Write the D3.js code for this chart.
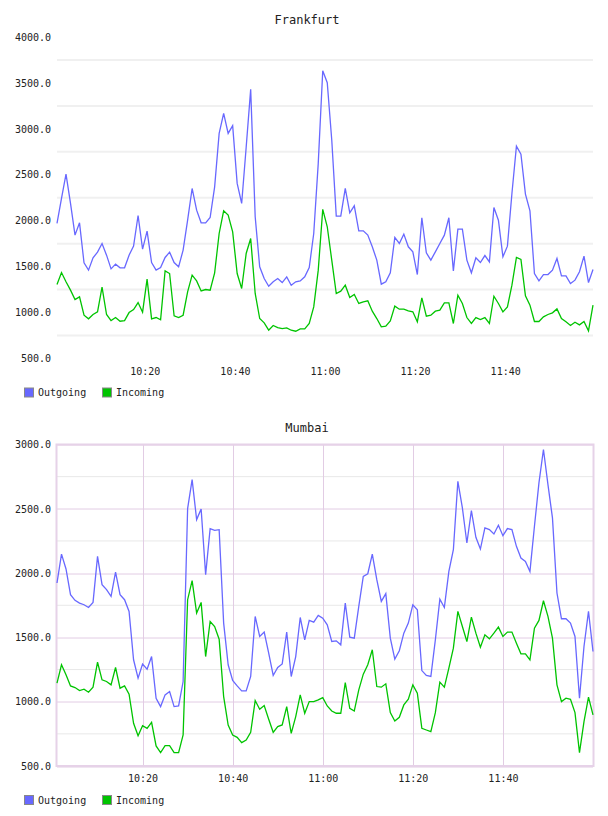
<!DOCTYPE html>
<html>
<head>
<meta charset="utf-8">
<script src="https://cdn.jsdelivr.net/npm/d3@7"></script>
<style>
  html, body { margin: 0; padding: 0; background: #fff; }
  svg { display: block; }
  text { font-family: "DejaVu Sans Mono", monospace; fill: #222; }
</style>
</head>
<body>
<svg id="chart"></svg>
<script>
// series names + colours
const seriesNames = ['Outgoing', 'Incoming'];
const seriesColors = ['#6868ff', '#00c400'];

// y tick values / x tick labels
const frankfurtYTicks = [500, 1000, 1500, 2000, 2500, 3000, 3500, 4000];
const mumbaiYTicks = [500, 1000, 1500, 2000, 2500, 3000];
const xTickLabels = ['10:20', '10:40', '11:00', '11:20', '11:40'];

// one sample per minute
const frankfurtStart = '10:00:30';
const mumbaiStart = '10:01:00';

const frankfurtOutgoing = [
  1970, 2242, 2507, 2188, 1843, 1977, 1541, 1462, 1596, 1658,
  1752, 1625, 1476, 1527, 1487, 1487, 1625, 1723, 2057, 1690,
  1886, 1545, 1462, 1491, 1600, 1658, 1545, 1498, 1680, 2006,
  2351, 2115, 1977, 1977, 2035, 2369, 2950, 3168, 2950, 3034,
  2406, 2188, 2800, 3430, 2043, 1498, 1371, 1287, 1335, 1371,
  1327, 1389, 1298, 1335, 1345, 1389, 1491, 1861, 2624, 3633,
  3502, 2878, 2050, 2050, 2351, 2086, 2162, 1890, 1890, 1843,
  1716, 1571, 1309, 1335, 1433, 1818, 1752, 1854, 1716, 1661,
  1414, 2032, 1650, 1571, 1661, 1752, 1843, 2032, 1454, 1908,
  1908, 1571, 1433, 1596, 1545, 1621, 1552, 2144, 2006, 1607,
  1723, 2297, 2812, 2725, 2290, 2108, 1425, 1345, 1414, 1414,
  1462, 1589, 1400, 1400, 1316, 1353, 1444, 1614, 1327, 1469
];
const frankfurtIncoming = [
  1306, 1436, 1335, 1244, 1142, 1171, 971, 932, 979, 1008,
  1276, 979, 913, 946, 906, 913, 1000, 1033, 1109, 1004,
  1364, 932, 946, 921, 1454, 1425, 964, 946, 971, 1226,
  1407, 1345, 1236, 1251, 1244, 1433, 1861, 2108, 2061, 1879,
  1425, 1262, 1643, 1807, 1208, 935, 888, 808, 859, 837,
  826, 834, 808, 797, 823, 823, 881, 1062, 1462, 2123,
  1934, 1571, 1208, 1233, 1298, 1164, 1197, 1099, 1117, 1128,
  1015, 935, 844, 852, 910, 1070, 1037, 1037, 1019, 1008,
  899, 1160, 961, 971, 1015, 1026, 1106, 1106, 881, 1189,
  1099, 946, 881, 946, 924, 946, 881, 1178, 1099, 1008,
  1062, 1298, 1600, 1578, 1182, 1081, 903, 903, 953, 979,
  997, 1040, 935, 899, 859, 895, 866, 903, 801, 1081
];
const mumbaiOutgoing = [
  1923, 2148, 2032, 1832, 1788, 1767, 1754, 1733, 1772, 2130,
  1910, 1871, 1819, 2008, 1832, 1793, 1702, 1326, 1183, 1292,
  1253, 1351, 1027, 962, 1053, 1079, 962, 967, 1157, 2502,
  2727, 2416, 2499, 1988, 2346, 2333, 2338, 1611, 1287, 1165,
  1123, 1084, 1084, 1196, 1663, 1507, 1541, 1377, 1204, 1266,
  1294, 1541, 1196, 1351, 1655, 1481, 1632, 1619, 1671, 1650,
  1598, 1468, 1473, 1442, 1767, 1502, 1494, 1741, 1975, 1995,
  2148, 1949, 1780, 1840, 1494, 1331, 1396, 1533, 1611, 1754,
  1715, 1242, 1204, 1196, 1481, 1798, 1733, 2013, 2182, 2714,
  2507, 2234, 2486, 2278, 2187, 2351, 2338, 2304, 2372, 2291,
  2346, 2338, 2208, 2117, 2091, 2013, 2364, 2701, 2961, 2688,
  2429, 1845, 1645, 1645, 1611, 1507, 1027, 1429, 1702, 1390
];
const mumbaiIncoming = [
  1144, 1287, 1209, 1123, 1110, 1087, 1097, 1074, 1113, 1307,
  1170, 1157, 1131, 1266, 1105, 1123, 1058, 832, 736, 814,
  793, 840, 656, 604, 658, 658, 604, 604, 741, 1793,
  1941, 1689, 1772, 1351, 1624, 1585, 1486, 1040, 819, 741,
  723, 682, 702, 762, 1009, 941, 970, 863, 762, 806,
  819, 962, 754, 884, 1053, 910, 1001, 1001, 1014, 1032,
  967, 928, 910, 910, 1149, 949, 928, 1092, 1214, 1287,
  1404, 1118, 1113, 1139, 915, 850, 879, 975, 1019, 1131,
  1066, 793, 780, 767, 915, 1152, 1113, 1261, 1416, 1702,
  1585, 1468, 1658, 1533, 1424, 1520, 1489, 1533, 1580, 1507,
  1541, 1541, 1455, 1372, 1372, 1326, 1572, 1632, 1785, 1663,
  1494, 1131, 1001, 1027, 1019, 915, 604, 845, 1035, 897
];

const width = 608;
const height = 816;
const margin = { left: 57, right: 15 };
const parseTime = d3.timeParse('%H:%M:%S');
const parseHM = d3.timeParse('%H:%M');

const svg = d3.select('#chart')
  .attr('width', width)
  .attr('height', height);

function drawChart(cfg) {
  const g = svg.append('g').attr('transform', `translate(0,${cfg.offsetY})`);
  const top = 37, bottom = 358.5;
  const start = parseTime(cfg.start);
  const times = cfg.series[0].map((d, i) => d3.timeMinute.offset(start, i));

  const x = d3.scaleTime()
    .domain([times[0], times[times.length - 1]])
    .range([margin.left, width - margin.right]);
  const y = d3.scaleLinear()
    .domain(cfg.yDomain)
    .range([bottom, top]);

  // minor grid: every 5 min, and half way between y ticks
  const fiveMin = d3.timeMinutes(d3.timeMinute.offset(times[0], 1), times[times.length - 1], 5)
    .filter(t => t.getMinutes() % 5 === 0);
  const halfSteps = d3.range(cfg.yDomain[0] + 250, cfg.yDomain[1], 500);

  g.selectAll('.hgrid')
    .data(halfSteps)
    .enter().append('line')
    .attr('x1', margin.left).attr('x2', width - margin.right)
    .attr('y1', d => y(d)).attr('y2', d => y(d))
    .attr('stroke', cfg.major ? '#e8e8e8' : '#f0f0f0')
    .attr('stroke-width', cfg.major ? 1 : 2);

  g.selectAll('.vgrid')
    .data(fiveMin)
    .enter().append('line')
    .attr('x1', d => Math.round(x(d)) + 0.5).attr('x2', d => Math.round(x(d)) + 0.5)
    .attr('y1', top).attr('y2', bottom)
    .attr('stroke', '#e4e4e4')
    .attr('stroke-width', 1);

  // pink major grid + frame (Mumbai only)
  if (cfg.major) {
    const majorT = xTickLabels.map(parseHM);
    g.selectAll('.vmajor')
      .data(majorT)
      .enter().append('line')
      .attr('x1', d => Math.round(x(d)) + 0.5).attr('x2', d => Math.round(x(d)) + 0.5)
      .attr('y1', top).attr('y2', bottom)
      .attr('stroke', '#e2cce4');
    g.selectAll('.hmajor')
      .data(cfg.yTicks)
      .enter().append('line')
      .attr('x1', margin.left).attr('x2', width - margin.right)
      .attr('y1', d => Math.round(y(d)) + 0.5).attr('y2', d => Math.round(y(d)) + 0.5)
      .attr('stroke', '#e2cce4');
    g.append('rect')
      .attr('x', margin.left - 0.5).attr('y', top)
      .attr('width', width - margin.right - margin.left + 1)
      .attr('height', bottom - top)
      .attr('fill', 'none')
      .attr('stroke', '#e6d2e8')
      .attr('stroke-width', 2);
  }

  // title
  g.append('text')
    .attr('x', 307).attr('y', 24)
    .attr('text-anchor', 'middle')
    .style('font-size', '12px')
    .text(cfg.title);

  // y axis labels
  const yAxis = g.append('g')
    .attr('transform', `translate(${margin.left - 6},0)`)
    .call(d3.axisLeft(y).tickValues(cfg.yTicks).tickFormat(d3.format('.1f')).tickSize(0).tickPadding(0));
  yAxis.select('.domain').remove();
  yAxis.selectAll('text').style('font-size', '10px').style('font-family', '"DejaVu Sans Mono", monospace').attr('fill', '#222');

  // x axis labels
  const xAxis = g.append('g')
    .attr('transform', `translate(0,${bottom + 9})`)
    .call(d3.axisBottom(x).tickValues(xTickLabels.map(parseHM)).tickFormat(d3.timeFormat('%H:%M')).tickSize(0).tickPadding(0));
  xAxis.select('.domain').remove();
  xAxis.selectAll('text').style('font-size', '10px').style('font-family', '"DejaVu Sans Mono", monospace').attr('fill', '#222');

  // lines
  const line = d3.line()
    .x((d, i) => x(times[i]))
    .y(d => y(d));
  cfg.series.forEach((s, k) => {
    g.append('path')
      .datum(s)
      .attr('fill', 'none')
      .attr('stroke', seriesColors[k])
      .attr('stroke-width', 1.3)
      .attr('stroke-linejoin', 'miter')
      .attr('d', line);
  });

  // legend
  const legend = g.append('g').attr('transform', `translate(24,${bottom + 29})`);
  const legendX = [0, 78];
  seriesNames.forEach((name, k) => {
    legend.append('rect')
      .attr('x', legendX[k] + 0.5).attr('y', 0.5)
      .attr('width', 9).attr('height', 9)
      .attr('fill', seriesColors[k])
      .attr('stroke', '#888')
      .attr('stroke-width', 1);
    legend.append('text')
      .attr('x', legendX[k] + 14).attr('y', 8.5)
      .style('font-size', '10px')
      .text(name);
  });
}

drawChart({
  title: 'Frankfurt',
  offsetY: 0,
  start: frankfurtStart,
  yDomain: [500, 4000],
  yTicks: frankfurtYTicks,
  series: [frankfurtOutgoing, frankfurtIncoming],
  major: false
});

drawChart({
  title: 'Mumbai',
  offsetY: 407.5,
  start: mumbaiStart,
  yDomain: [500, 3000],
  yTicks: mumbaiYTicks,
  series: [mumbaiOutgoing, mumbaiIncoming],
  major: true
});
</script>
</body>
</html>
